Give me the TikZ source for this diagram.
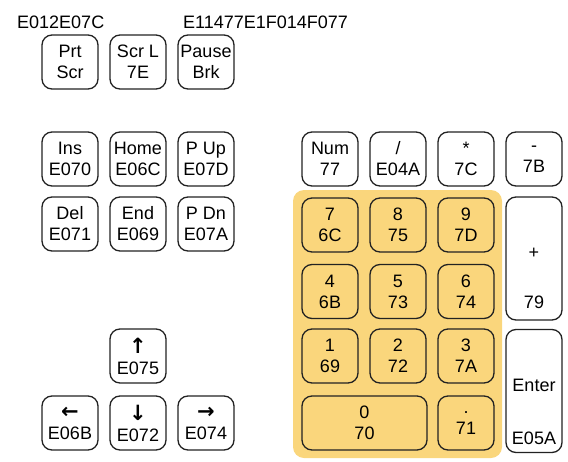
\documentclass[tikz,border=0pt]{standalone}
\usepackage{fontspec}
\setmainfont{Liberation Sans}
\newfontfamily\arrowfont{DejaVu Sans}
\usepackage{xcolor}
\usepackage{tikz}
\usetikzlibrary{positioning}
\definecolor{padyellow}{HTML}{FAD67C}
\definecolor{keyline}{HTML}{222222}
\newcommand{\keyarrow}[1]{{\arrowfont\bfseries\fontsize{21}{21}\selectfont #1}}

\begin{document}
\begin{tikzpicture}[
  x=1pt, y=-1pt,
  key/.style={draw=keyline, line width=1.3pt, rounded corners=10pt,
    minimum width=56pt, minimum height=54pt, inner sep=0pt,
    align=center, font=\fontsize{18}{21}\selectfont},
  widekey/.style={key, minimum width=125pt},
  tallkey/.style={key, minimum height=123pt},
  pad/.style={fill=padyellow, rounded corners=11pt},
  code/.style={anchor=west, inner sep=0pt, font=\fontsize{18}{21}\selectfont},
]
\useasboundingbox (0,0) rectangle (568,461);

% yellow block behind the digit keys
\fill[pad] (293,190) rectangle (502,458);

% top row
\node[code] (prtcode) at (17,22) {E012E07C};
\node[code] (pausecode) at (183,22) {E11477E1F014F077};
\node[key] (prt) at (70,62) {Prt\\Scr};
\node[key] (scrl) at (138,62) {Scr L\\7E};
\node[key] (pause) at (206,62) {Pause\\Brk};

% edit block
\node[key] (ins) at (70,159) {Ins\\E070};
\node[key] (home) at (138,159) {Home\\E06C};
\node[key] (pup) at (206,159) {P Up\\E07D};
\node[key] (del) at (70,224) {Del\\E071};
\node[key] (end) at (138,224) {End\\E069};
\node[key] (pdn) at (206,224) {P Dn\\E07A};

% cursor keys
\node[key] (up) at (138,356) {\keyarrow{↑}\\E075};
\node[key] (left) at (70,423) {\keyarrow{←}\\E06B};
\node[key] (down) at (138,423) {\keyarrow{↓}\\E072};
\node[key] (right) at (206,423) {\keyarrow{→}\\E074};

% numeric pad
\node[key] (num) at (330,159) {Num\\77};
\node[key] (slash) at (398,159) {/\\E04A};
\node[key] (star) at (466,159) {*\\7C};
\node[key] (minus) at (534,159) {-\\7B};

\node[key] (seven) at (330,225) {7\\6C};
\node[key] (eight) at (398,225) {8\\75};
\node[key] (nine) at (466,225) {9\\7D};
\node[tallkey, text height=108pt, text depth=8pt] (plus) at (534,258.5) {+\\[29pt]79};

\node[key] (four) at (330,291.5) {4\\6B};
\node[key] (five) at (398,291.5) {5\\73};
\node[key] (six) at (466,291.5) {6\\74};

\node[key] (one) at (330,356) {1\\69};
\node[key] (two) at (398,356) {2\\72};
\node[key] (three) at (466,356) {3\\7A};
\node[tallkey, text height=112pt, text depth=6pt] (enter) at (534,391) {Enter\\[32pt]E05A};

\node[widekey] (zero) at (364.5,423) {0\\70};
\node[key] (dot) at (466,423) {.\\71};

\end{tikzpicture}
\end{document}
